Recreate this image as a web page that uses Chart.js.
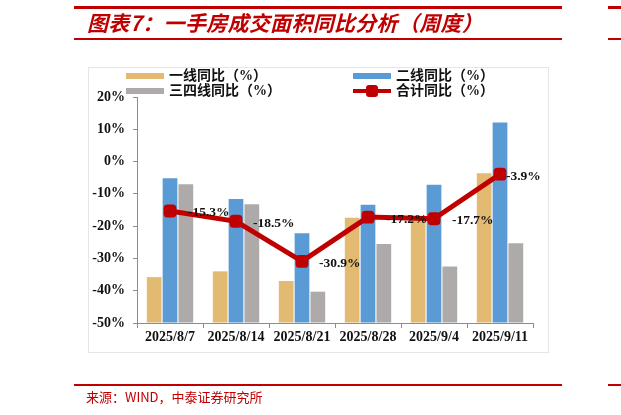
<!DOCTYPE html>
<html>
<head>
<meta charset="utf-8">
<script src="https://cdn.jsdelivr.net/npm/chart.js@4.4.1/dist/chart.umd.min.js"></script>
<style>
  html, body { margin: 0; padding: 0; background: #fff; }
  #wrap { position: relative; width: 621px; height: 415px; overflow: hidden; }
  #wrap canvas { position: absolute; left: 0; top: 0; }
  .abs { position: absolute; }
  .rule { position: absolute; background: #c00000; }
  #title { left: 87px; top: 8px; font: italic bold 21px "Noto Sans CJK SC", sans-serif; color: #c00000; white-space: nowrap; line-height: 28px; letter-spacing: 0.3px; }
  #source { left: 86px; top: 388px; font: 13px "Noto Sans CJK SC", sans-serif; color: #c00000; white-space: nowrap; line-height: 18px; }
  #frame { left: 88px; top: 67px; width: 459px; height: 284px; border: 1px solid #e6e6e6; }
  .lg-text { position: absolute; font: bold 14px "Liberation Serif", "Noto Sans CJK SC", serif; color: #111; white-space: nowrap; line-height: 16px; }
  .sw { position: absolute; width: 38px; height: 6px; }
</style>
</head>
<body>
<div id="wrap">
  <div class="abs" id="frame"></div>
  <canvas id="chart" width="621" height="415"></canvas>

  <div class="rule" style="left:74px; top:6px; width:488px; height:3px;"></div>
  <div class="rule" style="left:608px; top:6px; width:13px; height:3px;"></div>
  <div class="abs" id="title">图表7：一手房成交面积同比分析（周度）</div>
  <div class="rule" style="left:74px; top:38px; width:488px; height:2px;"></div>
  <div class="rule" style="left:608px; top:38px; width:13px; height:2px;"></div>

  <!-- 图例 -->
  <div class="sw" style="left:126px; top:73px; background:#e2ba72;"></div>
  <div class="lg-text" style="left:169px; top:68px;">一线同比（%）</div>
  <div class="sw" style="left:353px; top:73px; background:#5b9bd5;"></div>
  <div class="lg-text" style="left:396px; top:68px;">二线同比（%）</div>
  <div class="sw" style="left:126px; top:88px; background:#aeaaaa;"></div>
  <div class="lg-text" style="left:169px; top:83px;">三四线同比（%）</div>
  <div class="abs" style="left:353px; top:89px; width:38px; height:4px; background:#c00000;"></div>
  <div class="abs" style="left:366px; top:85px; width:12px; height:12px; background:#c00000; border-radius:3px;"></div>
  <div class="lg-text" style="left:396px; top:83px;">合计同比（%）</div>

  <div class="rule" style="left:74px; top:384px; width:488px; height:2px;"></div>
  <div class="rule" style="left:608px; top:384px; width:13px; height:2px;"></div>
  <div class="abs" id="source">来源：WIND，中泰证券研究所</div>
</div>

<script>
// 数据
const weeks = ['2025/8/7', '2025/8/14', '2025/8/21', '2025/8/28', '2025/9/4', '2025/9/11'];
const tier1 = [-35.8, -34.0, -37.0, -17.4, -17.6, -3.6];
const tier2 = [-5.2, -11.6, -22.2, -13.4, -7.2, 12.1];
const tier34 = [-7.0, -13.2, -40.3, -25.5, -32.5, -25.3];
const total = [-15.3, -18.5, -30.9, -17.2, -17.7, -3.9];
const yTicks = [-50, -40, -30, -20, -10, 0, 10, 20];

const axisColor = '#8c8c8c';
const tickFont = { family: '"Liberation Serif", "Times New Roman", serif', size: 14, weight: 'bold' };

// 合计同比的数据标签，放在方块右侧
const labelDx = [18, 17, 17, 18, 18, 6];
const totalLabels = {
  id: 'totalLabels',
  afterDatasetsDraw(chart) {
    const meta = chart.getDatasetMeta(3);
    const ctx = chart.ctx;
    ctx.save();
    ctx.font = 'bold 13.5px "Liberation Serif", "Times New Roman", serif';
    ctx.fillStyle = '#111';
    ctx.textAlign = 'left';
    ctx.textBaseline = 'middle';
    meta.data.forEach((pt, i) => {
      ctx.fillText(total[i].toFixed(1) + '%', pt.x + labelDx[i], pt.y + 2);
    });
    ctx.restore();
  }
};

// 柱子从坐标轴底部（-50%）画起
const barBase = -50;

new Chart(document.getElementById('chart'), {
  type: 'bar',
  data: {
    labels: weeks,
    datasets: [
      { label: '一线同比（%）', data: tier1, backgroundColor: '#e2ba72', order: 1, base: barBase,
        categoryPercentage: 0.72, barPercentage: 0.93 },
      { label: '二线同比（%）', data: tier2, backgroundColor: '#5b9bd5', order: 1, base: barBase,
        categoryPercentage: 0.72, barPercentage: 0.93 },
      { label: '三四线同比（%）', data: tier34, backgroundColor: '#aeaaaa', order: 1, base: barBase,
        categoryPercentage: 0.72, barPercentage: 0.93 },
      { type: 'line', label: '合计同比（%）', data: total, order: 0,
        borderColor: '#c00000', borderWidth: 5, backgroundColor: '#c00000',
        pointStyle: 'rectRounded', pointRadius: 7.5, pointBorderWidth: 0,
        pointBackgroundColor: '#c00000', tension: 0, fill: false }
    ]
  },
  options: {
    responsive: false,
    animation: false,
    layout: { padding: { left: 88, right: 88, top: 97, bottom: 63 } },
    plugins: { legend: { display: false }, tooltip: { enabled: false } },
    scales: {
      x: {
        offset: true,
        grid: { display: true, drawOnChartArea: false, offset: true, tickLength: 5, color: axisColor },
        border: { display: true, color: axisColor, width: 1 },
        ticks: { font: tickFont, color: '#111', padding: 1, maxRotation: 0, autoSkip: false },
        afterFit(s) { s.height = 29; }
      },
      y: {
        min: -50, max: 20,
        afterBuildTicks(s) { s.ticks = yTicks.map(v => ({ value: v })); },
        grid: { display: true, drawOnChartArea: false, tickLength: 4, color: axisColor },
        border: { display: true, color: axisColor, width: 1 },
        ticks: { font: tickFont, color: '#111', padding: 8, callback: v => v + '%' },
        afterFit(s) { s.width = 49; }
      }
    }
  },
  plugins: [totalLabels]
});
</script>
</body>
</html>
